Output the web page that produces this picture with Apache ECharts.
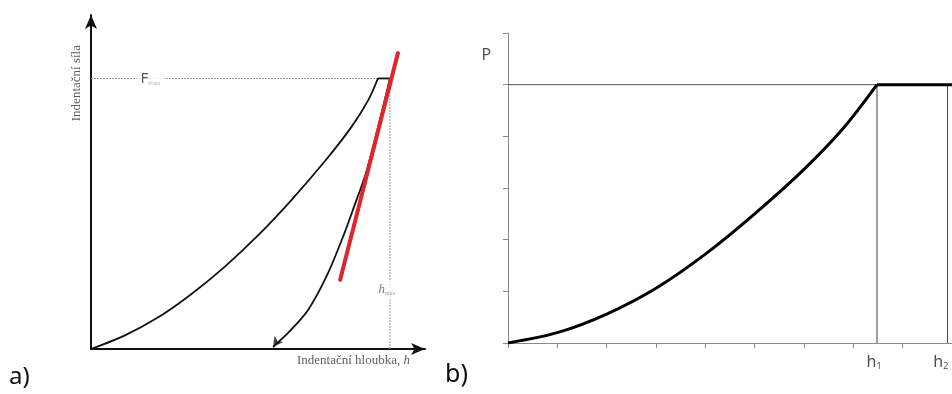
<!DOCTYPE html>
<html>
<head>
<meta charset="utf-8">
<script src="https://cdn.jsdelivr.net/npm/echarts@6/dist/echarts.min.js"></script>
<style>
  html, body { margin: 0; padding: 0; background: #fff; }
  #chart { width: 952px; height: 394px; }
</style>
</head>
<body>
<div id="chart"></div>
<script>
// ---- panel a) indentation force vs. depth (normalised units 0..100) ----
const loadingCurve = [[0,0],[10,4.0],[20,9.4],[30,16.4],[40,24.6],[50,34.0],[60,44.6],[70,56.2],[78,66.5],[83,74.5],[85.9,81]];
const holdSegment = [[85.9,81],[89.5,81]];
const unloadingCurve = [[89.5,81],[82.6,53.6],[78.4,41.6],[76.0,35.0],[71.0,22.8],[65.0,11.7],[59.0,4.8],[54.5,0.6]];
const tangentLine = [[74.6,20.7],[91.9,88.6]];
const fMax = 81;
const hMax = 89.5;
const unloadEnd = [54.5,0.6];

// ---- panel b) load P vs. depth ----
const bCurve = [[0,0],[1,0.2],[2,0.56],[3,1.06],[4,1.72],[5,2.5],[6,3.36],[6.8,4.16],[7.48,5.0]];
const bPlateau = [[7.48,5],[9,5]];
const pLevel = 5;
const h1 = 7.48;
const h2 = 8.91;

const serif = 'Liberation Serif';
const sans = 'Noto Sans';

const chart = echarts.init(document.getElementById('chart'), null, { renderer: 'canvas' });

const plainAxis = (idx, min, max) => ({
  gridIndex: idx, type: 'value', min: min, max: max,
  axisLabel: { show: false }, axisTick: { show: false }, splitLine: { show: false }
});

chart.setOption({
  animation: false,
  backgroundColor: '#fff',
  grid: [
    { left: 91, top: 15, width: 334, height: 334 },
    { left: 508, top: 33, width: 447, height: 310 }
  ],
  xAxis: [
    Object.assign(plainAxis(0, 0, 100), {
      axisLine: { show: true, onZero: false, lineStyle: { color: '#111', width: 2 },
        symbol: ['none', 'arrow'], symbolSize: [9, 14] }
    }),
    {
      gridIndex: 1, type: 'value', min: 0, max: 9, interval: 1,
      axisLabel: { show: false }, splitLine: { show: false },
      axisLine: { show: true, onZero: false, lineStyle: { color: '#8a8a8a', width: 1 } },
      axisTick: { show: true, length: 5, lineStyle: { color: '#8a8a8a' } }
    }
  ],
  yAxis: [
    Object.assign(plainAxis(0, 0, 100), {
      axisLine: { show: true, onZero: false, lineStyle: { color: '#111', width: 2 },
        symbol: ['none', 'arrow'], symbolSize: [9, 14] }
    }),
    {
      gridIndex: 1, type: 'value', min: 0, max: 6, interval: 1,
      axisLabel: { show: false }, splitLine: { show: false },
      axisLine: { show: true, onZero: false, lineStyle: { color: '#8a8a8a', width: 1 } },
      axisTick: { show: true, length: 5, lineStyle: { color: '#8a8a8a' } }
    }
  ],
  series: [
    // a) dotted guides for F_max and h_max
    { type: 'line', xAxisIndex: 0, yAxisIndex: 0, data: [[0, fMax], [hMax, fMax]], symbol: 'none',
      lineStyle: { color: '#9a9a9a', width: 1, type: [2, 1] }, z: 2 },
    { type: 'line', xAxisIndex: 0, yAxisIndex: 0, data: [[hMax, 0], [hMax, fMax]], symbol: 'none',
      lineStyle: { color: '#9a9a9a', width: 1, type: [2, 1] }, z: 2 },
    // a) loading, hold and unloading
    { type: 'line', xAxisIndex: 0, yAxisIndex: 0, data: loadingCurve, smooth: 0.3, symbol: 'none',
      lineStyle: { color: '#111', width: 1.8 }, z: 3 },
    { type: 'line', xAxisIndex: 0, yAxisIndex: 0, data: holdSegment, symbol: 'none',
      lineStyle: { color: '#111', width: 1.8 }, z: 3 },
    { type: 'line', xAxisIndex: 0, yAxisIndex: 0, data: unloadingCurve, smooth: 0.3, symbol: 'none',
      lineStyle: { color: '#111', width: 1.8 }, z: 3 },
    { type: 'scatter', xAxisIndex: 0, yAxisIndex: 0, data: [unloadEnd], symbol: 'arrow',
      symbolSize: [8, 10], symbolRotate: 144, itemStyle: { color: '#111' }, z: 4 },
    // a) unloading tangent
    { type: 'line', xAxisIndex: 0, yAxisIndex: 0, data: tangentLine, symbol: 'none',
      lineStyle: { color: '#e0262d', width: 4, cap: 'round' }, z: 5 },
    // a) text
    { type: 'scatter', xAxisIndex: 0, yAxisIndex: 0, symbolSize: 0, clip: false, z: 6,
      data: [
        { value: [17.8, fMax], label: { show: true, position: 'inside',
          formatter: '{f|F}{s|max}', backgroundColor: '#fff', padding: [2, 4, 2, 4],
          rich: { f: { fontFamily: sans, fontSize: 15, color: '#333' },
                  s: { fontFamily: sans, fontSize: 6, color: '#999', verticalAlign: 'bottom', padding: [6, 0, 0, 0] } } } },
        { value: [88.6, 17.7], label: { show: true, position: 'inside',
          formatter: '{h|h}{s|max}', backgroundColor: '#fff', padding: [3, 1, 3, 1],
          rich: { h: { fontFamily: serif, fontStyle: 'italic', fontSize: 13, color: '#555' },
                  s: { fontFamily: serif, fontSize: 6, color: '#888', verticalAlign: 'bottom', padding: [6, 0, 0, 0] } } } },
        { value: [-4.2, 79.6], label: { show: true, position: 'inside', rotate: 90,
          formatter: 'Indentační síla', fontFamily: serif, fontSize: 13, color: '#333' } },
        { value: [95.5, -3.4], label: { show: true, position: 'left', distance: 0,
          formatter: '{t|Indentační hloubka, }{h|h}',
          rich: { t: { fontFamily: serif, fontSize: 13, color: '#333' },
                  h: { fontFamily: serif, fontStyle: 'italic', fontSize: 13, color: '#333' } } } }
      ] },

    // b) reference lines
    { type: 'line', xAxisIndex: 1, yAxisIndex: 1, data: [[0, pLevel], [9, pLevel]], symbol: 'none',
      lineStyle: { color: '#555', width: 1 }, z: 2 },
    { type: 'line', xAxisIndex: 1, yAxisIndex: 1, data: [[h1, 0], [h1, pLevel]], symbol: 'none',
      lineStyle: { color: '#444', width: 1 }, z: 2 },
    { type: 'line', xAxisIndex: 1, yAxisIndex: 1, data: [[h2, 0], [h2, pLevel]], symbol: 'none',
      lineStyle: { color: '#444', width: 1 }, z: 2 },
    // b) load curve and plateau
    { type: 'line', xAxisIndex: 1, yAxisIndex: 1, data: bCurve, smooth: 0.3, symbol: 'none',
      lineStyle: { color: '#000', width: 3 }, z: 3 },
    { type: 'line', xAxisIndex: 1, yAxisIndex: 1, data: bPlateau, symbol: 'none',
      lineStyle: { color: '#000', width: 3 }, z: 3 },
    // b) text
    { type: 'scatter', xAxisIndex: 1, yAxisIndex: 1, symbolSize: 0, clip: false, z: 6,
      data: [
        { value: [-0.44, 5.57], label: { show: true, position: 'inside', formatter: 'P',
          fontFamily: sans, fontSize: 16, color: '#222' } },
        { value: [h1 - 0.06, -0.37], label: { show: true, position: 'inside',
          formatter: '{h|h}{s|1}',
          rich: { h: { fontFamily: sans, fontSize: 16, color: '#222' },
                  s: { fontFamily: sans, fontSize: 9, color: '#222', verticalAlign: 'bottom', padding: [8, 0, 0, 0] } } } },
        { value: [8.62, -0.37], label: { show: true, position: 'right', distance: 0,
          formatter: '{h|h}{s|2}',
          rich: { h: { fontFamily: sans, fontSize: 16, color: '#222' },
                  s: { fontFamily: sans, fontSize: 9, color: '#222', verticalAlign: 'bottom', padding: [8, 0, 0, 0] } } } }
      ] }
  ],
  graphic: [
    { type: 'text', left: 9, top: 365, style: { text: 'a)', font: '24px "Noto Sans"', fill: '#111' } },
    { type: 'text', left: 445, top: 362, style: { text: 'b)', font: '25px "Noto Sans"', fill: '#111' } }
  ]
});
</script>
</body>
</html>
